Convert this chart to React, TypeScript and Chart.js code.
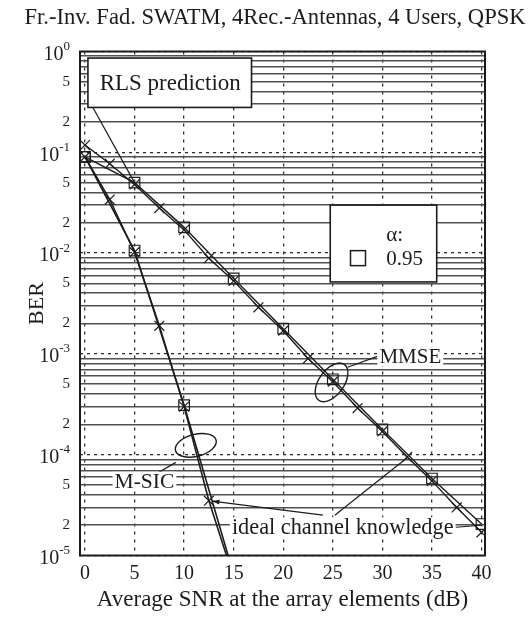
import React, { useEffect, useRef } from 'react';
import { Chart, registerables } from 'chart.js';

Chart.register(...registerables);

// ---------- text ----------
const TITLE = 'Fr.-Inv. Fad. SWATM, 4Rec.-Antennas, 4 Users, QPSK';
const X_TITLE = 'Average SNR at the array elements (dB)';
const Y_TITLE = 'BER';
const LABEL_RLS = 'RLS prediction';
const LABEL_MMSE = 'MMSE';
const LABEL_MSIC = 'M-SIC';
const LABEL_IDEAL = 'ideal channel knowledge';
const LEGEND_TITLE = 'α:';
const LEGEND_ALPHA = '0.95';

// ---------- axes ----------
const X_TICKS = [0, 5, 10, 15, 20, 25, 30, 35, 40];
const Y_DECADES = [-5, -4, -3, -2, -1, 0];
const Y_MANTISSAS = [1, 2, 3, 4, 5, 6, 7, 8, 9];
const Y_LABELED_MANTISSAS = [2, 5];

// ---------- data (BER vs SNR in dB) ----------
const SNR_IDEAL = [0, 2.5, 5, 7.5, 10, 12.5, 15, 17.5, 20, 22.5, 25, 27.5, 30, 32.5, 35, 37.5, 40];
const MMSE_IDEAL = [0.118, 0.077, 0.048, 0.028, 0.017, 0.0089, 0.0053, 0.0029, 0.0017, 9.0e-4, 5.3e-4, 2.9e-4, 1.7e-4, 9.5e-5, 5.5e-5, 3.0e-5, 1.7e-5];
const SNR_RLS = [0, 5, 10, 15, 20, 25, 30, 35, 40];
const MMSE_RLS = [0.09, 0.05, 0.018, 0.0056, 0.00178, 5.6e-4, 1.78e-4, 5.8e-5, 2.05e-5];
const SNR_MSIC_IDEAL = [0, 2.5, 5, 7.5, 10, 12.5, 15];
const MSIC_IDEAL = [0.09, 0.034, 0.0102, 0.0019, 3.0e-4, 3.5e-5, 6.0e-6];
const SNR_MSIC_RLS = [0, 5, 10, 15];
const MSIC_RLS = [0.09, 0.0106, 3.1e-4, 6.5e-6];

const FONT = '"Liberation Serif", "Times New Roman", serif';
const INK = '#1c1c1c';

const Y_GRID: { v: number; m: number; e: number }[] = [];
Y_DECADES.forEach((e) => {
  if (e === 0) {
    Y_GRID.push({ v: 1, m: 1, e: 0 });
  } else {
    Y_MANTISSAS.forEach((m) => Y_GRID.push({ v: m * Math.pow(10, e), m, e }));
  }
});

const pts = (xs: number[], ys: number[]) => xs.map((x, i) => ({ x, y: ys[i] }));

const overlay = {
  id: 'overlay',
  afterDraw(chart: any) {
    const { ctx, chartArea: ca, scales } = chart;
    const X = (v: number) => scales.x.getPixelForValue(v);
    const Y = (lg: number) => scales.y.getPixelForValue(Math.pow(10, lg));
    ctx.save();

    // frame
    ctx.strokeStyle = INK;
    ctx.lineWidth = 2;
    ctx.strokeRect(ca.left, ca.top, ca.right - ca.left, ca.bottom - ca.top);

    // title
    ctx.fillStyle = INK;
    ctx.font = `22.6px ${FONT}`;
    ctx.textAlign = 'center';
    ctx.textBaseline = 'middle';
    ctx.fillText(TITLE, chart.width / 2 + 9.5, 18);

    // decade tick labels with superscripts
    Y_DECADES.forEach((e) => {
      const y = Y(e);
      const sup = String(e);
      ctx.font = `13px ${FONT}`;
      const ws = ctx.measureText(sup).width;
      ctx.font = `20px ${FONT}`;
      const wb = ctx.measureText('10').width;
      const right = ca.left - 10;
      ctx.textAlign = 'left';
      ctx.textBaseline = 'middle';
      ctx.fillText('10', right - ws - wb, y + 3);
      ctx.font = `13px ${FONT}`;
      ctx.fillText(sup, right - ws, y - 5);
    });

    const seg = (x0: number, y0: number, x1: number, y1: number, w = 1.2) => {
      ctx.beginPath();
      ctx.lineWidth = w;
      ctx.strokeStyle = INK;
      ctx.moveTo(x0, y0);
      ctx.lineTo(x1, y1);
      ctx.stroke();
    };
    const boxed = (x0: number, y0: number, x1: number, y1: number) => {
      ctx.fillStyle = '#fff';
      ctx.fillRect(x0, y0, x1 - x0, y1 - y0);
      ctx.lineWidth = 1.6;
      ctx.strokeStyle = INK;
      ctx.strokeRect(x0, y0, x1 - x0, y1 - y0);
    };
    const label = (text: string, x: number, y: number, align: 'left' | 'center', size = 22) => {
      ctx.font = `${size}px ${FONT}`;
      const w = ctx.measureText(text).width;
      const left = align === 'center' ? x - w / 2 : x;
      ctx.fillStyle = '#fff';
      ctx.fillRect(left - 2, y - size * 0.45, w + 4, size * 0.9);
      ctx.fillStyle = INK;
      ctx.textAlign = 'left';
      ctx.textBaseline = 'middle';
      ctx.fillText(text, left, y + 1);
    };
    const ellipse = (cx: number, cy: number, rx: number, ry: number, rot: number) => {
      ctx.beginPath();
      ctx.lineWidth = 1.4;
      ctx.strokeStyle = INK;
      ctx.ellipse(cx, cy, rx, ry, rot, 0, Math.PI * 2);
      ctx.stroke();
    };

    // "RLS prediction" box + pointer
    boxed(X(0.3), Y(-0.065), X(16.8), Y(-0.555));
    label(LABEL_RLS, X(8.6), Y(-0.31), 'center', 23);
    seg(X(0.8), Y(-0.555), X(5), Y(Math.log10(0.05)));

    // legend box
    boxed(X(24.74), Y(-1.524), X(35.48), Y(-2.286));
    label(LEGEND_TITLE, X(30.4), Y(-1.812), 'left', 21);
    label(LEGEND_ALPHA, X(30.4), Y(-2.05), 'left', 21);
    ctx.lineWidth = 1.5;
    ctx.strokeStyle = INK;
    ctx.strokeRect(X(27.54) - 7.5, Y(-2.05) - 7.5, 15, 15);

    // MMSE annotation
    ellipse(X(24.87), Y(-3.282), 22, 12.5, -0.95);
    seg(X(26.5), Y(-3.133), X(29.5), Y(-3.024));
    label(LABEL_MMSE, X(29.7), Y(-3.03), 'left', 21);

    // M-SIC annotation
    ellipse(X(11.18), Y(-3.907), 21, 11, -0.25);
    seg(X(7.25), Y(-4.186), X(9.16), Y(-4.076));
    label(LABEL_MSIC, X(6.0), Y(-4.265), 'center', 21.5);

    // ideal channel knowledge annotation
    label(LABEL_IDEAL, X(26.0), Y(-4.72), 'center', 22.3);
    const ax = X(12.8), ay = Y(-4.46);
    const bx = X(24.0), by = Y(-4.6);
    seg(bx, by, ax, ay);
    const ang = Math.atan2(ay - by, ax - bx);
    ctx.beginPath();
    ctx.fillStyle = INK;
    ctx.moveTo(ax, ay);
    ctx.lineTo(ax - 8 * Math.cos(ang - 0.3), ay - 8 * Math.sin(ang - 0.3));
    ctx.lineTo(ax - 8 * Math.cos(ang + 0.3), ay - 8 * Math.sin(ang + 0.3));
    ctx.closePath();
    ctx.fill();
    seg(X(25.2), Y(-4.6), X(32.5), Y(-4.03));
    seg(X(37.4), Y(-4.72), X(40), Y(-4.7));

    ctx.restore();
  },
};

export default function App() {
  const ref = useRef<HTMLCanvasElement>(null);
  useEffect(() => {
    const canvas = ref.current as HTMLCanvasElement;
    const lineBase = {
      borderColor: INK,
      backgroundColor: 'rgba(0,0,0,0)',
      pointBorderColor: INK,
      pointBackgroundColor: 'rgba(0,0,0,0)',
      pointBorderWidth: 1.2,
      tension: 0,
      fill: false,
    };
    const isDecade = (c: any) => c && c.index !== undefined && Y_GRID[c.index] && Y_GRID[c.index].m === 1;
    const chart = new Chart(canvas, {
      type: 'line',
      data: {
        datasets: [
          { ...lineBase, label: 'MMSE, ideal channel knowledge', data: pts(SNR_IDEAL, MMSE_IDEAL), borderWidth: 1.4, pointStyle: 'crossRot', pointRadius: 7 },
          { ...lineBase, label: 'MMSE, RLS prediction', data: pts(SNR_RLS, MMSE_RLS), borderWidth: 1.4, pointStyle: 'rect', pointRadius: 7.5 },
          { ...lineBase, label: 'M-SIC, ideal channel knowledge', data: pts(SNR_MSIC_IDEAL, MSIC_IDEAL), borderWidth: 1.6, pointStyle: 'crossRot', pointRadius: 7 },
          { ...lineBase, label: 'M-SIC, RLS prediction', data: pts(SNR_MSIC_RLS, MSIC_RLS), borderWidth: 1.6, pointStyle: 'rect', pointRadius: 7.5 },
        ] as any,
      },
      options: {
        animation: false,
        responsive: false,
        events: [],
        layout: { padding: { top: 51.5, right: 46, left: 0, bottom: 0 } },
        plugins: { legend: { display: false }, title: { display: false }, tooltip: { enabled: false } },
        scales: {
          x: {
            type: 'linear',
            min: -0.5,
            max: 40.35,
            afterBuildTicks: (s: any) => {
              s.ticks = X_TICKS.map((v) => ({ value: v }));
            },
            afterFit: (s: any) => {
              s.height = 62.5;
            },
            ticks: {
              autoSkip: false,
              maxRotation: 0,
              padding: 6,
              color: INK,
              font: { family: FONT, size: 20 },
              callback: (v: any) => String(v),
            },
            grid: { drawTicks: false, color: '#333', lineWidth: 1.3 },
            border: { display: false, dash: [3, 5] },
            title: { display: true, text: X_TITLE, color: INK, font: { family: FONT, size: 23 }, padding: { top: 0, bottom: 4 } },
          },
          y: {
            type: 'logarithmic',
            min: 1e-5,
            max: 1,
            afterBuildTicks: (s: any) => {
              s.ticks = Y_GRID.map((t) => ({ value: t.v }));
            },
            afterFit: (s: any) => {
              s.width = 80;
            },
            ticks: {
              autoSkip: false,
              padding: 10,
              color: INK,
              font: { family: FONT, size: 15 },
              callback: (_v: any, i: number) => (Y_LABELED_MANTISSAS.includes(Y_GRID[i].m) ? String(Y_GRID[i].m) : ''),
            },
            grid: {
              drawTicks: false,
              color: (c: any) => (isDecade(c) ? '#2a2a2a' : '#505050'),
              lineWidth: (c: any) => (isDecade(c) ? 1.3 : 1.6),
            },
            border: { display: false, dash: (c: any) => (isDecade(c) ? [3, 4] : []) },
            title: { display: true, text: Y_TITLE, color: INK, font: { family: FONT, size: 22 }, padding: { top: 24, bottom: 0 } },
          },
        },
      } as any,
      plugins: [overlay],
    });
    return () => chart.destroy();
  }, []);
  return (
    <div style={{ position: 'fixed', left: 0, top: 0, width: 531, height: 618, background: '#fff' }}>
      <canvas ref={ref} width={531} height={618} style={{ display: 'block', width: 531, height: 618 }} />
    </div>
  );
}
